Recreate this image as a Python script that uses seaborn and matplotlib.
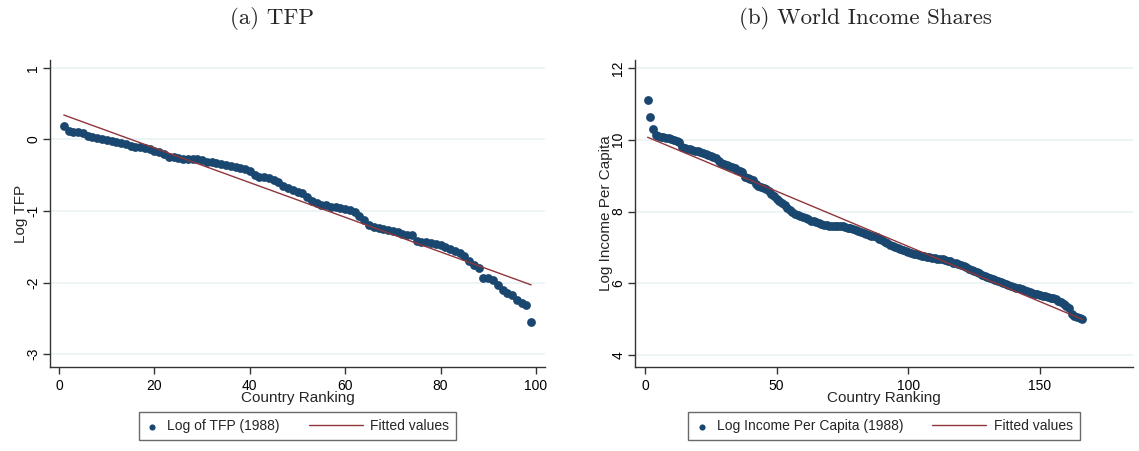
import numpy as np
import pandas as pd
import seaborn as sns
import matplotlib.pyplot as plt
from matplotlib.legend_handler import HandlerLine2D

# Panel (a): log TFP by country ranking (1988)
tfp_log = [
    0.19, 0.12, 0.11, 0.10, 0.09, 0.05, 0.04, 0.02, 0.00, -0.01,
    -0.02, -0.03, -0.05, -0.07, -0.09, -0.10, -0.11, -0.12, -0.14, -0.16,
    -0.18, -0.21, -0.24, -0.25, -0.26, -0.27, -0.27, -0.28, -0.28, -0.29,
    -0.31, -0.32, -0.33, -0.35, -0.36, -0.37, -0.39, -0.40, -0.42, -0.44,
    -0.50, -0.52, -0.53, -0.54, -0.56, -0.60, -0.65, -0.68, -0.70, -0.73,
    -0.75, -0.80, -0.86, -0.89, -0.91, -0.92, -0.94, -0.95, -0.96, -0.97,
    -0.99, -1.02, -1.07, -1.13, -1.19, -1.22, -1.24, -1.25, -1.26, -1.28,
    -1.30, -1.32, -1.33, -1.34, -1.42, -1.43, -1.44, -1.45, -1.46, -1.47,
    -1.50, -1.53, -1.56, -1.59, -1.63, -1.70, -1.76, -1.80, -1.93, -1.94,
    -1.96, -2.04, -2.10, -2.14, -2.18, -2.24, -2.29, -2.31, -2.55,
]
tfp_rank = list(range(1, len(tfp_log) + 1))

# Panel (b): log income per capita by country ranking (1988)
inc_log = [
    11.11, 10.62, 10.30, 10.12, 10.09, 10.08, 10.07, 10.06, 10.04, 10.02,
    10.00, 9.97, 9.93, 9.80, 9.76, 9.74, 9.73, 9.71, 9.69, 9.68,
    9.65, 9.62, 9.60, 9.58, 9.55, 9.52, 9.49, 9.42, 9.36, 9.33,
    9.29, 9.26, 9.23, 9.20, 9.17, 9.14, 9.10, 8.97, 8.94, 8.91,
    8.88, 8.76, 8.71, 8.69, 8.66, 8.63, 8.57, 8.50, 8.42, 8.34,
    8.28, 8.23, 8.19, 8.10, 8.04, 7.99, 7.93, 7.90, 7.87, 7.85,
    7.83, 7.79, 7.75, 7.73, 7.70, 7.67, 7.65, 7.63, 7.62, 7.61,
    7.61, 7.61, 7.61, 7.60, 7.59, 7.57, 7.55, 7.53, 7.51, 7.49,
    7.46, 7.43, 7.40, 7.37, 7.35, 7.33, 7.31, 7.28, 7.24, 7.20,
    7.16, 7.12, 7.08, 7.04, 7.01, 6.98, 6.95, 6.92, 6.89, 6.86,
    6.84, 6.83, 6.81, 6.79, 6.77, 6.75, 6.74, 6.73, 6.71, 6.70,
    6.69, 6.68, 6.67, 6.65, 6.63, 6.61, 6.58, 6.56, 6.53, 6.51,
    6.48, 6.45, 6.41, 6.38, 6.35, 6.31, 6.28, 6.24, 6.21, 6.18,
    6.16, 6.12, 6.09, 6.06, 6.03, 6.00, 5.98, 5.95, 5.93, 5.91,
    5.88, 5.86, 5.84, 5.81, 5.79, 5.76, 5.73, 5.71, 5.69, 5.67,
    5.65, 5.64, 5.62, 5.60, 5.58, 5.56, 5.52, 5.48, 5.43, 5.37,
    5.30, 5.14, 5.10, 5.07, 5.04, 5.01,
]
inc_rank = list(range(1, len(inc_log) + 1))

tfp_df = pd.DataFrame({'rank': tfp_rank, 'value': tfp_log})
inc_df = pd.DataFrame({'rank': inc_rank, 'value': inc_log})

navy = '#1a476f'
maroon = '#90353b'
grid_col = '#eaf2f3'
axis_col = '#333333'

sns.set_theme(style='white')
plt.rcParams['font.family'] = ['Liberation Sans', 'DejaVu Sans']
plt.rcParams['axes.unicode_minus'] = False

fig = plt.figure(figsize=(11.39, 4.51), dpi=100)
W, H = 1139, 451


class LongLineHandler(HandlerLine2D):
    # Stata-style legend key: the line sample reaches further left than the
    # (short) shared handle box, so the dot key can stay close to its text.
    def get_xdata(self, legend, xdescent, ydescent, width, height, fontsize):
        xdata, xmark = super().get_xdata(legend, xdescent, ydescent, width,
                                         height, fontsize)
        return [-xdescent + width - 3.9 * fontsize, -xdescent + width], xmark


def px_axes(x0, x1, y0, y1):
    return fig.add_axes([x0 / W, 1 - y1 / H, (x1 - x0) / W, (y1 - y0) / H])


def style_axes(ax, xticks, yticks, xlim, ylim, ylabel):
    ax.set_xlim(*xlim)
    ax.set_ylim(*ylim)
    ax.set_xticks(xticks)
    ax.set_yticks(yticks)
    ax.set_yticklabels([str(t) for t in yticks])
    for y in yticks:
        ax.axhline(y, color=grid_col, lw=1.2, zorder=0)
    ax.spines['top'].set_visible(False)
    ax.spines['right'].set_visible(False)
    for s in ['left', 'bottom']:
        ax.spines[s].set_color(axis_col)
        ax.spines[s].set_linewidth(1.0)
    ax.tick_params(axis='both', direction='out', length=5, width=1.0,
                   color=axis_col, labelsize=10, labelcolor='black',
                   left=True, bottom=True)
    ax.tick_params(axis='y', labelrotation=90, pad=2)
    for lab in ax.get_yticklabels():
        lab.set_va('center')
    ax.set_xlabel('Country Ranking', fontsize=11, labelpad=-1)
    ax.set_ylabel(ylabel, fontsize=11, labelpad=-1)


def draw_panel(ax, df, point_label):
    sns.scatterplot(data=df, x='rank', y='value', ax=ax, color=navy,
                    s=40, linewidth=0, zorder=3)
    sns.regplot(data=df, x='rank', y='value', ax=ax, scatter=False, ci=None,
                color=maroon, line_kws={'lw': 1.0, 'zorder': 4})
    pts = ax.collections[0]
    fit = ax.lines[-1]
    leg = ax.legend([pts, fit], [point_label, 'Fitted values'],
                    handler_map={fit: LongLineHandler()},
                    loc='upper center', bbox_to_anchor=(0.5, -0.125),
                    ncol=2, frameon=True, fancybox=False, fontsize=10,
                    handlelength=1.0, handletextpad=0.55, columnspacing=5.0,
                    borderpad=0.5, edgecolor='#444444', scatterpoints=1,
                    markerscale=0.7)
    leg.get_frame().set_linewidth(1.0)


ax1 = px_axes(50, 545, 60, 367)
draw_panel(ax1, tfp_df, 'Log of TFP (1988)')
style_axes(ax1, [0, 20, 40, 60, 80, 100], [-3, -2, -1, 0, 1],
           (-1.9, 101.9), (-3.18, 1.11), 'Log TFP')

ax2 = px_axes(635, 1133, 60, 367)
draw_panel(ax2, inc_df, 'Log Income Per Capita (1988)')
style_axes(ax2, [0, 50, 100, 150], [4, 6, 8, 10, 12],
           (-3.8, 185.3), (3.67, 12.22), 'Log Income Per Capita')

fig.text(272 / W, 1 - 18 / H, '(a) TFP', family='cmr10', fontsize=16.5,
         ha='center', va='center')
fig.text(865 / W, 1 - 18 / H, '(b) World Income Shares', family='cmr10',
         fontsize=16.5, ha='center', va='center')

fig.savefig('out.png', dpi=100)
